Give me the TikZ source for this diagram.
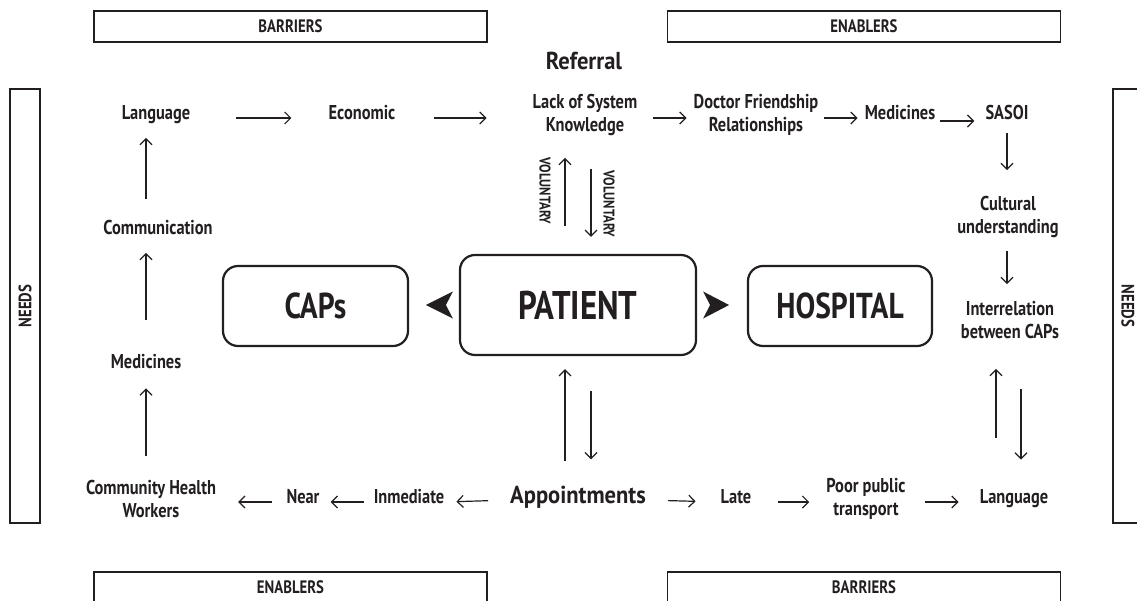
\documentclass[tikz,border=0pt]{standalone}
\usepackage{fontspec}
\setmainfont{PT Sans}[FakeStretch=0.82]
\newfontfamily\bigfam{PT Sans}[FakeStretch=0.92]
\usetikzlibrary{arrows.meta}
\definecolor{ink}{HTML}{231F20}
\tikzset{
  txt/.style={inner sep=0pt, align=center, text=ink, font=\bfseries\fontsize{20}{23}\selectfont},
  one/.style={txt, text height=14pt, text depth=4.5pt},
  big/.style={inner sep=0pt, text=ink, font=\bigfam\bfseries\fontsize{24.5}{28}\selectfont, text height=17pt, text depth=6pt},
  hdr/.style={draw=ink, line width=1.3pt, minimum width=393pt, minimum height=31pt, inner sep=0pt, text=ink, font=\bfseries\fontsize{18}{20}\selectfont},
  needsbox/.style={draw=ink, line width=1.3pt, minimum width=434pt, minimum height=30pt, inner sep=0pt, text=ink, font=\bfseries\fontsize{18}{20}\selectfont},
  mainbox/.style={draw=ink, line width=2.2pt, rounded corners=15pt, inner sep=0pt, text=ink, font=\bfseries\fontsize{36}{40}\selectfont, minimum width=185pt, minimum height=80pt},
  vol/.style={inner sep=0pt, text=ink, rotate=-90, font=\bfseries\fontsize{15.5}{18}\selectfont},
  arr/.style={draw=ink, line width=1.2pt, -{Straight Barb[length=6pt,width=12pt]}},
}
\begin{document}
\begin{tikzpicture}[x=1pt,y=-1pt]
\useasboundingbox (0,0) rectangle (1137,600);
% header boxes
\node[hdr] (bar1) at (290.5,26.5) {BARRIERS};
\node[hdr] (ena1) at (864,26.5) {ENABLERS};
\node[hdr] (ena2) at (290.5,587.5) {ENABLERS};
\node[hdr] (bar2) at (864,587.5) {BARRIERS};
\node[needsbox, rotate=90] (needL) at (25,306) {NEEDS};
\node[needsbox, rotate=-90] (needR) at (1128,306) {NEEDS};
% main boxes
\node[mainbox] (caps) at (315.5,306) {CAPs};
\node[mainbox, minimum width=236pt, minimum height=100pt, font=\bfseries\fontsize{40}{44}\selectfont] (patient) at (578,305) {PATIENT};
\node[mainbox, minimum width=184pt] (hosp) at (840,306) {HOSPITAL};
\fill[ink] ([xshift=-33pt]patient.west) -- ++(27,-13.5) -- ++(-7,13.5) -- ++(7,13.5) -- cycle;
\fill[ink] ([xshift=32pt]patient.east) -- ++(-26,-13.5) -- ++(7,13.5) -- ++(-7,13.5) -- cycle;
% top row
\node[big] (referral) at (584,64) {Referral};
\node[one] (lang1) at (156,115) {Language};
\node[one] (econ) at (362,115) {Economic};
\node[txt] (lack) at (585,115) {Lack of System\\Knowledge};
\node[txt] (doctor) at (756,115) {Doctor Friendship\\Relationships};
\node[one] (med1) at (900,115) {Medicines};
\node[one] (sasoi) at (1007,115) {SASOI};
% right column
\node[txt] (cultural) at (1008,217) {Cultural\\understanding};
\node[txt] (interrel) at (1010,320) {Interrelation\\between CAPs};
% bottom row
\node[one] (lang2) at (1014,499) {Language};
\node[txt] (poor) at (866,499) {Poor public\\transport};
\node[one] (late) at (736,499) {Late};
\node[big] (appoint) at (578,498) {Appointments};
\node[one] (inmed) at (409,499) {Inmediate};
\node[one] (near) at (303,499) {Near};
\node[txt] (chw) at (151,499) {Community Health\\Workers};
% left column
\node[one] (med2) at (146,363.5) {Medicines};
\node[one] (comm) at (158,230) {Communication};
% voluntary labels
\node[vol] (vol1) at (545,191) {VOLUNTARY};
\node[vol] (vol2) at (609,204) {VOLUNTARY};
% top row arrows
\draw[arr, shorten <=46pt, shorten >=37pt] ([yshift=-3pt]lang1.east) -- ([yshift=-3pt]econ.west);
\draw[arr, shorten <=38pt, shorten >=46pt] ([yshift=-3pt]econ.east) -- ([yshift=-3pt]lack.west);
\draw[arr, shorten <=16pt, shorten >=7pt] ([yshift=-3pt]lack.east) -- ([yshift=-3pt]doctor.west);
\draw[arr, shorten <=5pt, shorten >=7pt] ([yshift=-3pt]doctor.east) -- ([yshift=-3pt]med1.west);
\draw[arr, shorten <=5pt, shorten >=11pt] ([yshift=-6pt]med1.east) -- ([yshift=-6pt]sasoi.west);
% right column arrows
\draw[arr, shorten <=8.5pt, shorten >=26pt] (sasoi.south) -- ([xshift=-1pt]cultural.north);
\draw[arr, shorten <=13pt, shorten >=17pt] ([xshift=-1pt]cultural.south) -- ([xshift=-3pt]interrel.north);
\draw[arr, shorten <=52pt, shorten >=30pt] ([xshift=-18pt]lang2.north) -- ([xshift=-14pt]interrel.south);
\draw[arr, shorten <=50pt, shorten >=30pt] ([xshift=11pt]interrel.south) -- ([xshift=7pt]lang2.north);
% middle arrows
\draw[arr, shorten <=28pt, shorten >=22pt] ([xshift=-13pt]patient.north) -- ([xshift=-20pt]lack.south);
\draw[arr, shorten <=33pt, shorten >=17pt] ([xshift=6pt]lack.south) -- ([xshift=13pt]patient.north);
\draw[arr, shorten <=25pt, shorten >=13pt] ([xshift=-13pt]appoint.north) -- ([xshift=-13pt]patient.south);
\draw[arr, shorten <=35pt, shorten >=27pt] ([xshift=13pt]patient.south) -- ([xshift=13pt]appoint.north);
% bottom row arrows
\draw[arr, shorten <=22pt, shorten >=12pt] ([yshift=-2pt]appoint.west) -- ([yshift=-3pt]inmed.east);
\draw[arr, shorten <=10pt, shorten >=11pt] ([yshift=-3pt]inmed.west) -- ([yshift=-3pt]near.east);
\draw[arr, shorten <=14pt, shorten >=22pt] ([yshift=-3pt]near.west) -- ([yshift=-3pt]chw.east);
\draw[arr, shorten <=22pt, shorten >=25pt] ([yshift=-2pt]appoint.east) -- ([yshift=-3pt]late.west);
\draw[arr, shorten <=27pt, shorten >=17pt] ([yshift=-3pt]late.east) -- ([yshift=-3pt]poor.west);
\draw[arr, shorten <=19pt, shorten >=21pt] ([yshift=-3pt]poor.east) -- ([yshift=-3pt]lang2.west);
% left column arrows
\draw[arr, shorten <=24pt, shorten >=15.5pt] ([xshift=-5pt]chw.north) -- (med2.south);
\draw[arr, shorten <=34.5pt, shorten >=13.5pt] (med2.north) -- ([xshift=-12pt]comm.south);
\draw[arr, shorten <=21.5pt, shorten >=13.5pt] ([xshift=-12pt]comm.north) -- ([xshift=-10pt]lang1.south);
\end{tikzpicture}
\end{document}
